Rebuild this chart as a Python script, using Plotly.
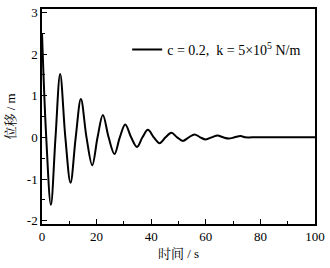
import plotly.graph_objects as go

# Extrema and zero crossings (time in s, displacement in m)
t_values = [0, 1.55, 3.25, 4.95, 6.65, 8.55, 10.45, 12.35, 14.25, 16.3, 18.4, 20.35,
            22.3, 24.4, 26.55, 28.5, 30.5, 32.65, 34.8, 36.8, 38.8, 40.95, 43.1,
            45.25, 47.4, 49.5, 51.6, 53.75, 55.9, 57.95, 60.0, 62.15, 64.3, 66.35,
            68.4, 70.55, 72.7, 74.6, 77, 100]
y_values = [2.5, 0, -1.62, 0, 1.52, 0, -1.09, 0, 0.92, 0, -0.67, 0,
            0.535, 0, -0.40, 0, 0.31, 0, -0.23, 0, 0.18, 0, -0.14,
            0, 0.11, 0, -0.085, 0, 0.07, 0, -0.05, 0, 0.045, 0,
            -0.03, 0, 0.03, 0, 0, 0]

series_name = "c = 0.2,  k = 5×10<sup>5</sup> N/m"
x_tick_vals = [0, 20, 40, 60, 80, 100]
x_tick_labels = ["0", "20", "40", "60", "80", "100"]
y_tick_vals = [-2, -1, 0, 1, 2, 3]
y_tick_labels = ["-2", "-1", "0", "1", "2", "3"]
x_title = "时间 / s"
y_title = "位移 / m"

FONT = "Liberation Serif, Times New Roman, Noto Serif CJK SC, Noto Sans CJK SC, serif"

fig = go.Figure()
fig.add_trace(go.Scatter(
    x=t_values, y=y_values, mode="lines", name=series_name,
    line=dict(color="black", width=2, shape="spline", smoothing=1.0),
))

axis_common = dict(
    showline=True, linecolor="black", linewidth=1.5, mirror=True,
    ticks="inside", ticklen=5, tickwidth=1, tickcolor="black",
    showgrid=False, zeroline=False,
    tickfont=dict(family=FONT, size=13, color="black"),
)

fig.update_xaxes(
    range=[0, 100], tickmode="array", tickvals=x_tick_vals, ticktext=x_tick_labels,
    minor=dict(ticks="inside", ticklen=3, dtick=10, tickcolor="black", showgrid=False),
    title=dict(text=x_title, font=dict(family=FONT, size=13, color="black"), standoff=6),
    **axis_common,
)
fig.update_yaxes(
    range=[-2.08, 3.08], tickmode="array", tickvals=y_tick_vals, ticktext=y_tick_labels,
    minor=dict(ticks="inside", ticklen=3, dtick=0.5, tickcolor="black", showgrid=False),
    title=dict(text=y_title, font=dict(family=FONT, size=13, color="black"), standoff=8),
    **axis_common,
)

fig.update_layout(
    width=330, height=268,
    margin=dict(l=42, r=15, t=5, b=44),
    paper_bgcolor="white", plot_bgcolor="white",
    showlegend=True,
    legend=dict(
        x=0.312, y=0.81, xanchor="left", yanchor="middle",
        bgcolor="rgba(0,0,0,0)", borderwidth=0,
        font=dict(family=FONT, size=14, color="black"),
    ),
)

fig.write_html("out.html", config={"displayModeBar": False},
               post_script="document.body.style.margin='0';")
